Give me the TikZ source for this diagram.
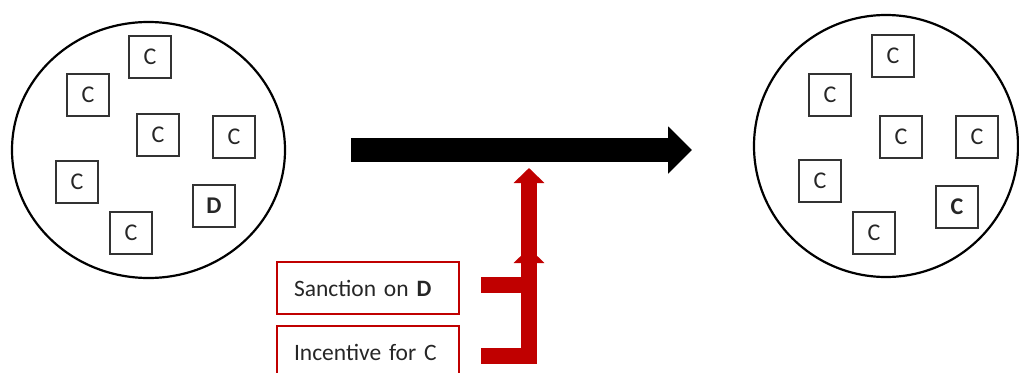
\documentclass[tikz,border=0pt]{standalone}
\usepackage{fontspec}
\setmainfont{Carlito}
\usetikzlibrary{arrows.meta,shapes.geometric}
\definecolor{dred}{HTML}{C00000}
\definecolor{txt}{HTML}{262626}
\begin{document}
\begin{tikzpicture}[x=1pt,y=-1pt,
  cbox/.style={draw=black!80, line width=1.4pt, minimum width=42pt, minimum height=42pt, inner sep=0pt, text=txt, font=\fontsize{24}{28}\selectfont},
  rbox/.style={draw=dred, line width=2pt, minimum height=52pt, text width=148pt, align=left, inner xsep=17pt, inner ysep=0pt, text=txt, font=\fontsize{23.5}{28}\selectfont},
  pop/.style={draw=black, line width=2.2pt, ellipse, inner sep=0pt},
  redarrow/.style={draw=dred, line width=16pt, line join=miter, -{Triangle[length=15pt,width=30pt]}},
  bigarrow/.style={draw=black, line width=24pt, -{Triangle[length=24pt,width=46pt]}}]
\useasboundingbox (0,0) rectangle (1019,372);
\clip (0,0) rectangle (1019,372);
% populations
\node[pop, minimum width=273pt, minimum height=256pt] (left) at (148.5,150) {};
\node[pop, minimum width=264pt, minimum height=262pt] (right) at (886,146) {};
% left boxes
\node[cbox] (l1) at (150,57) {C};
\node[cbox] (l2) at (88,95) {C};
\node[cbox] (l3) at (158,135) {C};
\node[cbox] (l4) at (234,137) {C};
\node[cbox] (l5) at (77,182) {C};
\node[cbox] (l6) at (214,206) {\textbf{D}};
\node[cbox] (l7) at (131,233) {C};
% right boxes
\node[cbox] (r1) at (893,56) {C};
\node[cbox] (r2) at (830,95) {C};
\node[cbox] (r3) at (901,137) {C};
\node[cbox] (r4) at (977,137) {C};
\node[cbox] (r5) at (820,181) {C};
\node[cbox] (r6) at (957,207) {\textbf{C}};
\node[cbox] (r7) at (874,233) {C};
% main arrow
\coordinate (a0) at (351,150);
\coordinate (a1) at (692,150);
\draw[bigarrow] (a0) -- (a1);
% red boxes
\node[rbox] (s) at (368,288) {Sanction on \textbf{D}};
\node[rbox] (i) at (368,352) {Incentive for C};
\coordinate (sb) at (481,285);
\coordinate (ib) at (481,355.5);
\coordinate (st) at (529,248);
\coordinate (it) at (529,168);
\draw[redarrow] (ib) -| (it);
\draw[redarrow] (sb) -| (st);
\end{tikzpicture}
\end{document}
